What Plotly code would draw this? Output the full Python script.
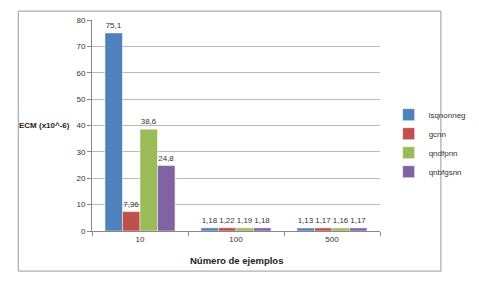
import plotly.graph_objects as go

categories = ["10", "100", "500"]
series_names = ["lsqnonneg", "gcnn", "qndfpnn", "qnbfgsnn"]
lsqnonneg = [75.1, 1.18, 1.13]
gcnn = [7.36, 1.22, 1.17]
qndfpnn = [38.6, 1.19, 1.16]
qnbfgsnn = [24.8, 1.18, 1.17]
colors = ["#4F81BD", "#C0504D", "#9BBB59", "#8064A2"]
y_ticks = [0, 10, 20, 30, 40, 50, 60, 70, 80]

FONT = "Liberation Sans, Arial, sans-serif"

def fmt(v):
    return str(v).replace(".", ",")

fig = go.Figure()
for name, vals, c in zip(series_names, [lsqnonneg, gcnn, qndfpnn, qnbfgsnn], colors):
    fig.add_trace(go.Bar(
        name=name, x=categories, y=vals, marker=dict(color=c, line=dict(color="rgba(255,255,255,0.5)", width=1)),
        text=[fmt(v) for v in vals], textposition="outside", cliponaxis=False,
        textfont=dict(size=8, color="#333333", family=FONT),
    ))

# page body has an 8px default margin; compensate so the figure sits at the reference position
fig.update_layout(
    width=471, height=273,
    margin=dict(l=84, r=75, t=8, b=50, pad=0),
    paper_bgcolor="white", plot_bgcolor="white",
    barmode="group", bargap=0.27, bargroupgap=0,
    font=dict(family=FONT, size=8, color="#333333"),
    showlegend=True,
    legend=dict(x=1.03, y=0.62, xanchor="left", yanchor="top",
                font=dict(size=8, color="#333333"), bgcolor="rgba(0,0,0,0)",
                itemwidth=30, tracegroupgap=0),
    xaxis=dict(type="category", showline=True, linecolor="#888888", linewidth=1,
               ticks="outside", tickson="boundaries", ticklen=4, tickcolor="#888888",
               tickfont=dict(size=8), showgrid=False),
    yaxis=dict(range=[0, 80], tickvals=y_ticks, showline=True, linecolor="#888888", linewidth=1,
               ticks="outside", ticklen=4, tickcolor="#888888",
               showgrid=True, gridcolor="#BBBBBB", gridwidth=1, zeroline=False,
               tickfont=dict(size=8)),
    annotations=[
        dict(text="<b>ECM (x10^-6)</b>", x=-0.07, xref="paper", y=40, yref="y",
             xanchor="right", yanchor="middle", showarrow=False, font=dict(size=8, color="#222222")),
        dict(text="<b>Número de ejemplos</b>", x=0.5, xref="paper", y=-0.105, yref="paper",
             xanchor="center", yanchor="top", showarrow=False, font=dict(size=9.5, color="#222222")),
    ],
    shapes=[dict(type="rect", xref="paper", yref="paper", x0=-0.256, x1=1.2115, y0=-0.19, y1=1.042,
                 line=dict(color="#999999", width=1), layer="below")],
)

fig.write_html("out.html")
